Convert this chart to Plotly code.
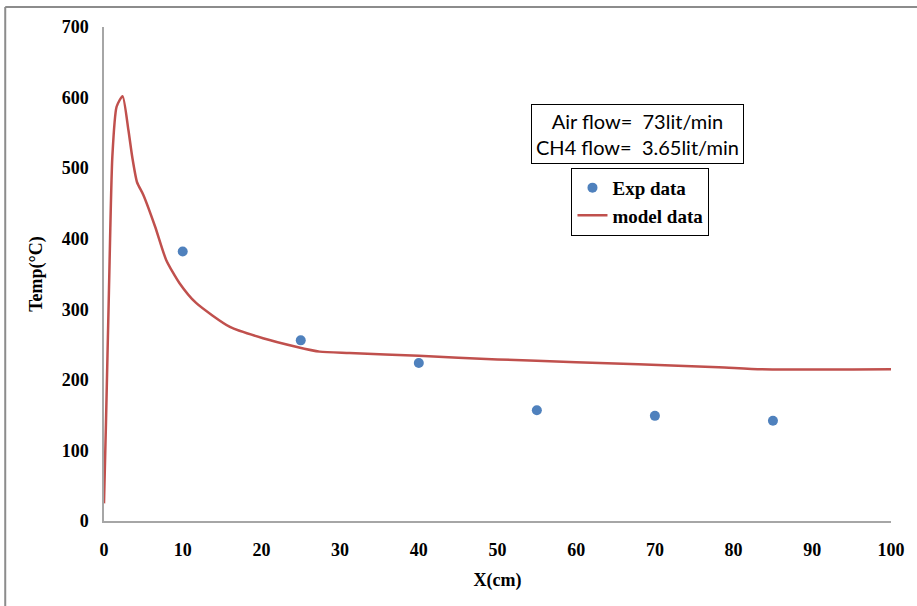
import plotly.graph_objects as go

# Experimental data
exp_x = [10, 25, 40, 55, 70, 85]
exp_y = [382, 256, 224, 157, 149, 142]

# Model data
model_x = [0, 0.25, 0.63, 1.06, 1.6, 2.36, 3.1, 3.6, 4.2, 5.0, 6.5, 7.9, 9.6, 11.7, 16.0, 20.2, 24.4, 27.4, 31.2, 40, 50, 60, 67.9, 78.1, 83.6, 100]
model_y = [25, 139, 327, 516, 587, 602, 554, 515, 480, 462, 417, 370, 337, 309, 275, 259, 247, 240, 238, 234, 229, 225, 222, 218, 215, 215]

x_ticks = [0, 10, 20, 30, 40, 50, 60, 70, 80, 90, 100]
y_ticks = [0, 100, 200, 300, 400, 500, 600, 700]

serif = "Liberation Serif"

fig = go.Figure()
fig.add_trace(go.Scatter(
    x=exp_x, y=exp_y, mode="markers", name="Exp data",
    marker=dict(color="#4F81BD", size=10),
))
fig.add_trace(go.Scatter(
    x=model_x, y=model_y, mode="lines", name="model data",
    line=dict(color="#C0504D", width=2.5, shape="spline", smoothing=0.6),
))

fig.update_layout(
    width=917, height=606,
    margin=dict(l=104, r=24, t=27, b=85),
    paper_bgcolor="white", plot_bgcolor="white",
    showlegend=True,
    legend=dict(
        x=0.594, y=0.715, xanchor="left", yanchor="top",
        bordercolor="black", borderwidth=1, bgcolor="white",
        font=dict(family=serif, size=19, color="black", weight="bold"),
        itemwidth=30, tracegroupgap=0,
    ),
    xaxis=dict(
        range=[0, 100], tickvals=x_ticks, ticktext=[str(v) for v in x_ticks],
        showgrid=False, zeroline=False, showline=True, linecolor="#A6A6A6", linewidth=1.5,
        ticks="", tickfont=dict(family=serif, size=18, color="black", weight="bold"),
        ticklabelstandoff=12,
        title=dict(text="X(cm)", font=dict(family=serif, size=18, color="black", weight="bold"), standoff=14),
    ),
    yaxis=dict(
        range=[0, 700], tickvals=y_ticks, ticktext=[str(v) for v in y_ticks],
        showgrid=False, zeroline=False, showline=True, linecolor="#A6A6A6", linewidth=1.5,
        ticks="", tickfont=dict(family=serif, size=18, color="black", weight="bold"),
        ticklabelstandoff=10,
        title=dict(text="Temp(°C)", font=dict(family=serif, size=18, color="black", weight="bold"), standoff=14),
    ),
    annotations=[dict(
        x=67.8, y=548, xref="x", yref="y",
        text="Air flow=&nbsp; 73lit/min<br>CH4 flow=&nbsp; 3.65lit/min",
        showarrow=False, align="center",
        font=dict(family="Lato", size=20, color="black"),
        bordercolor="black", borderwidth=1, borderpad=4, bgcolor="white",
    )],
    shapes=[
        dict(type="line", xref="paper", yref="paper", x0=-0.1255, x1=1.05, y0=1.0405, y1=1.0405,
             line=dict(color="#8C8C8C", width=2)),
        dict(type="line", xref="paper", yref="paper", x0=-0.1255, x1=-0.1255, y0=1.0405, y1=-0.18,
             line=dict(color="#8C8C8C", width=2)),
    ],
)

fig.write_html("out.html", config={"displayModeBar": False},
               post_script="document.body.style.margin='0';document.body.style.overflow='hidden';")
